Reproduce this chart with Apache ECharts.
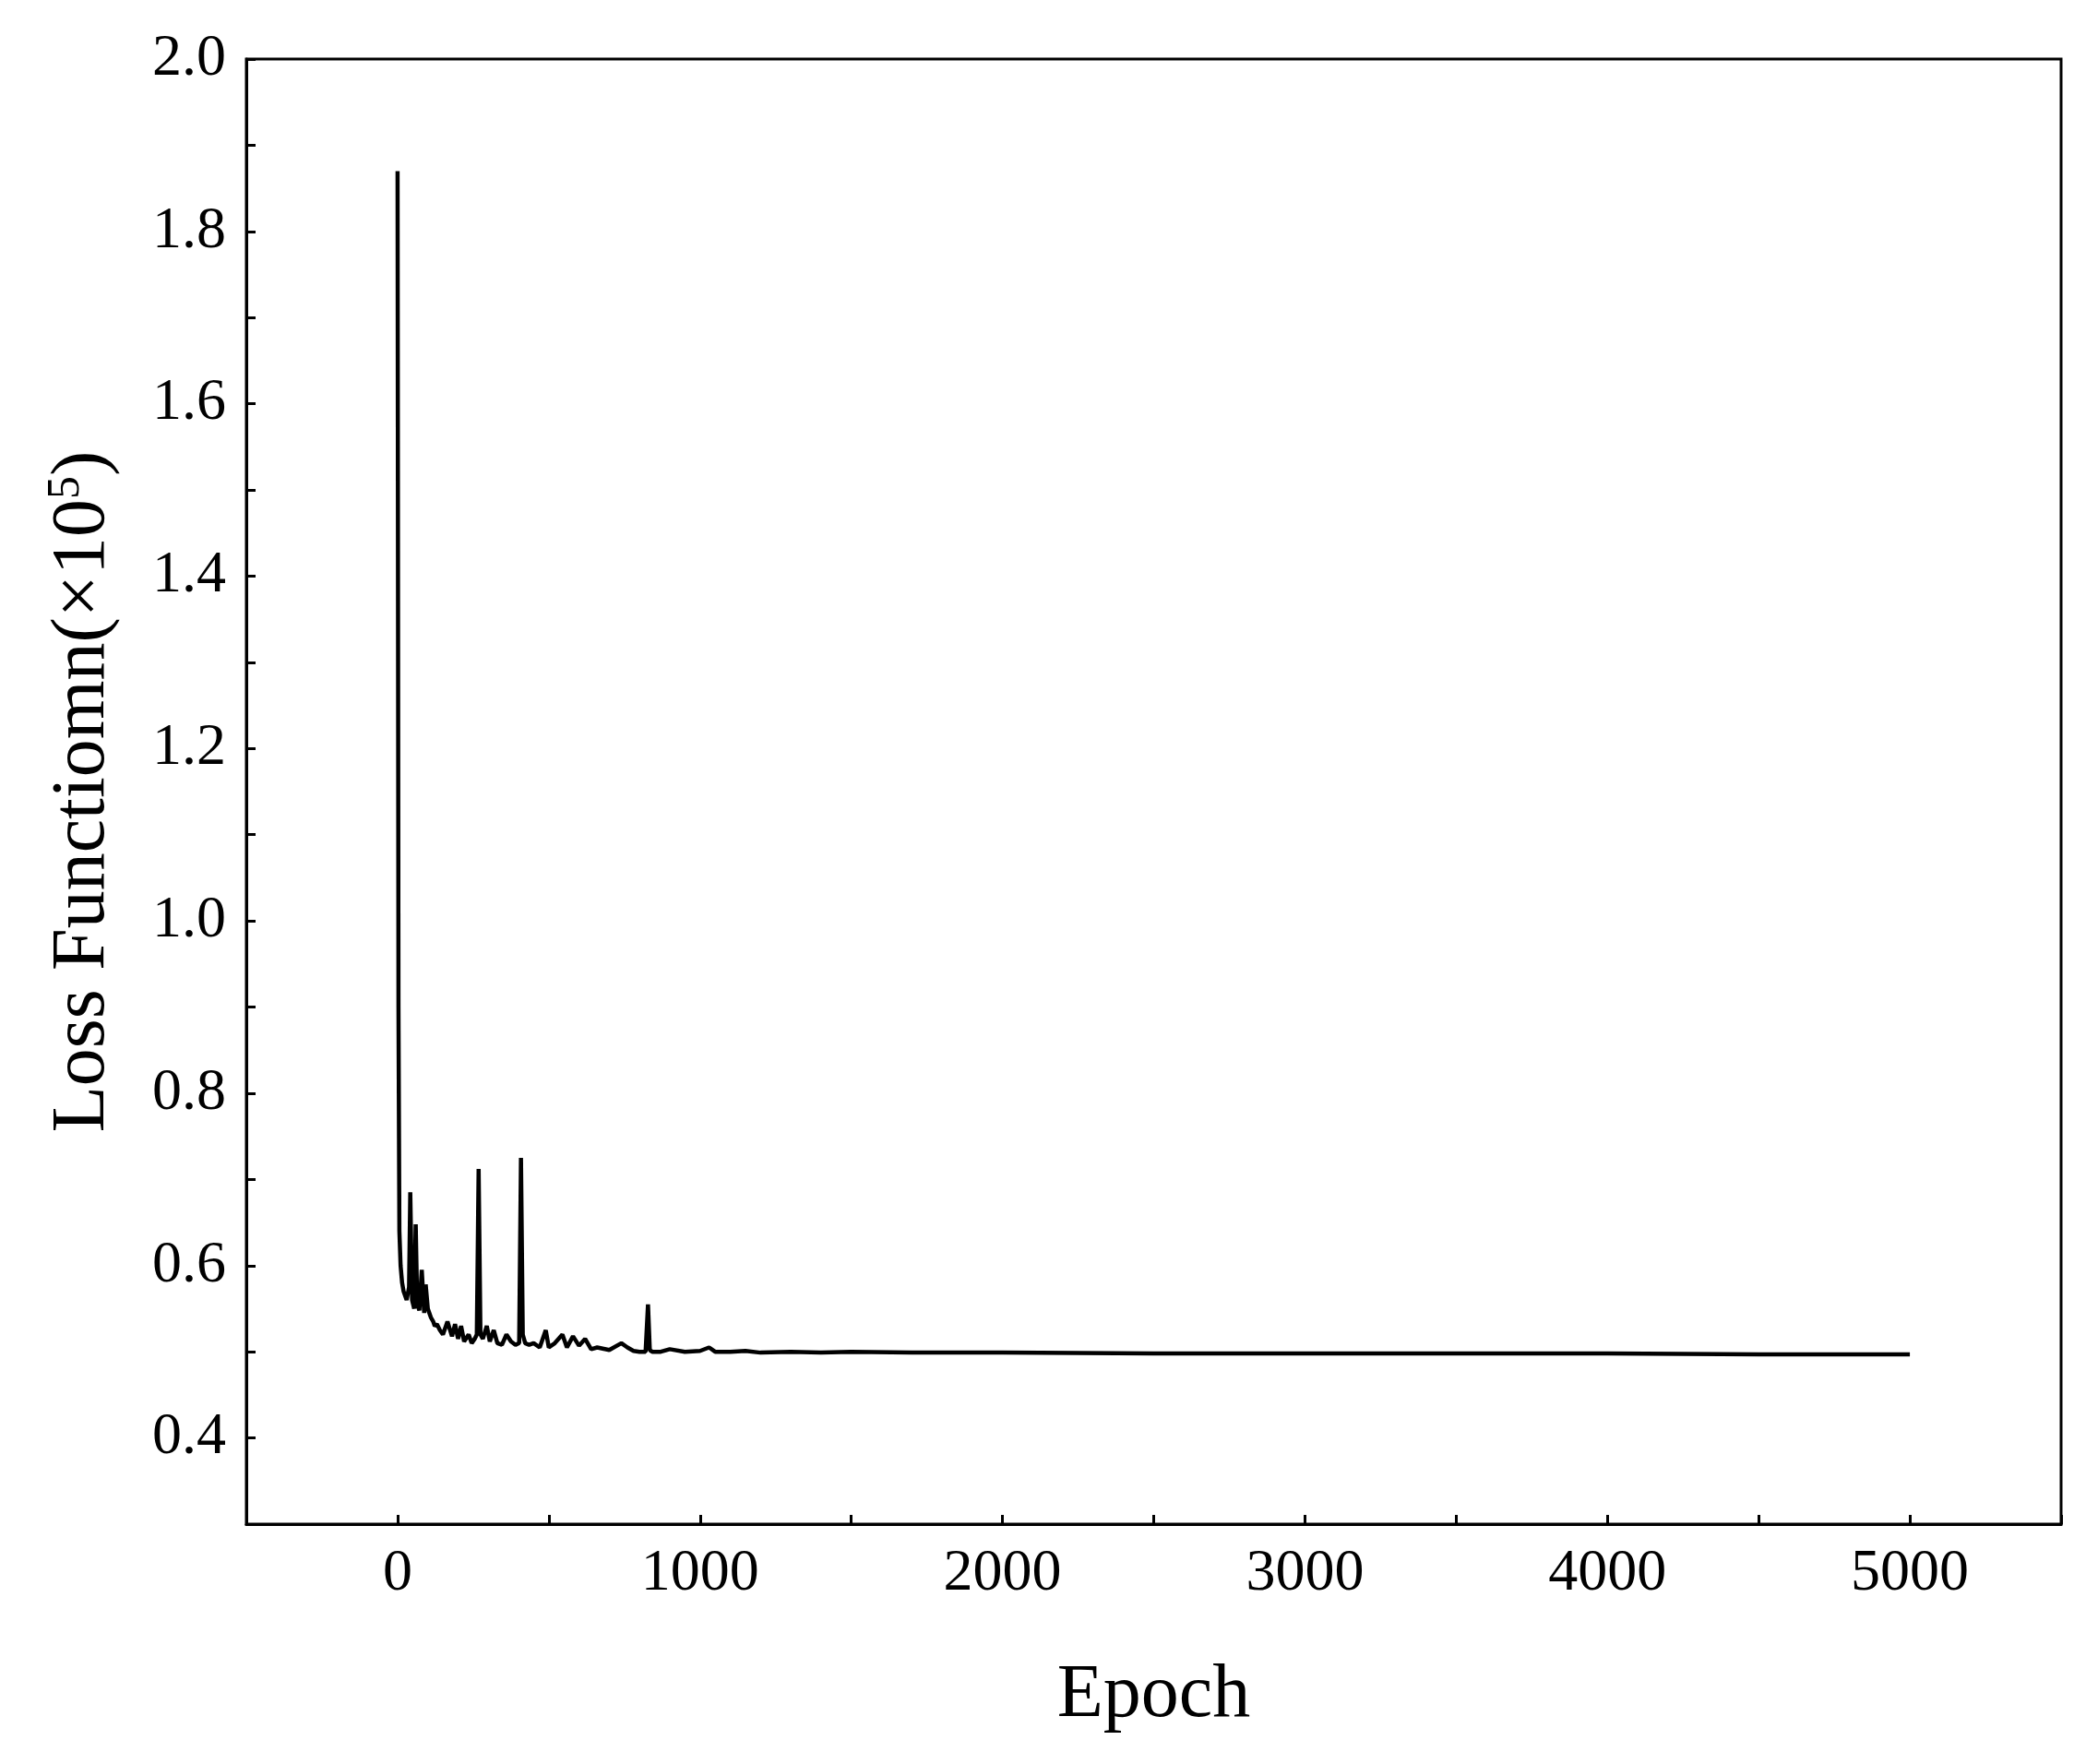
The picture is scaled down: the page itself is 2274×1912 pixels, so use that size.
<!DOCTYPE html>
<html><head><meta charset="utf-8">
<script src="https://cdn.jsdelivr.net/npm/echarts@6/dist/echarts.min.js"></script>
<style>html,body{margin:0;padding:0;background:#fff}#c{width:2274px;height:1912px}</style>
</head><body><div id="c"></div>
<script>
const epochs = [0,3,6,10,15,20,30,38,42,48,55,60,65,72,80,88,93,100,110,118,123,130,140,150,165,180,190,200,210,220,235,245,255,262,268,274,282,295,305,318,330,345,360,375,390,402,408,414,422,435,450,470,490,500,520,545,560,580,600,620,640,660,700,740,760,780,800,820,828,834,842,870,900,950,1000,1030,1050,1100,1150,1200,1300,1400,1500,1700,1900,2000,2500,3000,3500,4000,4500,5000];
const loss = [1.87,0.90,0.64,0.60,0.58,0.57,0.56,0.575,0.685,0.56,0.55,0.648,0.555,0.548,0.595,0.545,0.578,0.55,0.54,0.535,0.53,0.532,0.525,0.52,0.535,0.518,0.532,0.515,0.53,0.512,0.52,0.51,0.515,0.52,0.712,0.52,0.515,0.53,0.512,0.525,0.51,0.508,0.52,0.512,0.508,0.51,0.725,0.52,0.51,0.508,0.51,0.505,0.525,0.505,0.51,0.52,0.505,0.518,0.507,0.515,0.503,0.505,0.502,0.51,0.505,0.501,0.5,0.5,0.555,0.502,0.5,0.5,0.503,0.5,0.501,0.505,0.5,0.5,0.501,0.499,0.5,0.499,0.5,0.499,0.499,0.499,0.498,0.498,0.498,0.498,0.497,0.497];
const data = epochs.map((e,i)=>[e,loss[i]]);
const font = '"Liberation Serif", "Times New Roman", serif';
const chart = echarts.init(document.getElementById('c'));
chart.setOption({
  backgroundColor:'#fff',
  animation:false,
  grid:{left:267,right:40,top:64,bottom:260,show:true,borderColor:'#000',borderWidth:3,backgroundColor:'transparent'},
  xAxis:{type:'value',min:-500,max:5500,interval:500,
    name:'Epoch',nameLocation:'middle',nameGap:145,
    nameTextStyle:{fontFamily:font,fontSize:82,color:'#000'},
    axisLine:{onZero:false,lineStyle:{color:'#000',width:3}},
    axisTick:{inside:true,length:10,lineStyle:{color:'#000',width:3}},
    axisLabel:{fontFamily:font,fontSize:64,color:'#000',margin:22,
      formatter:v=>(v>=0&&v%1000===0)?String(v):''},
    splitLine:{show:false}},
  yAxis:{type:'value',min:0.3,max:2.0,interval:0.1,
    name:'{a|Loss Functiomn(×10}{s|5}{a|)}',nameLocation:'middle',nameGap:134,
    nameTextStyle:{rich:{a:{fontFamily:font,fontSize:82,color:'#000'},s:{fontFamily:font,fontSize:50,color:'#000',verticalAlign:'top',padding:[0,0,36,0]}}},
    axisLine:{onZero:false,lineStyle:{color:'#000',width:3}},
    axisTick:{inside:true,length:10,lineStyle:{color:'#000',width:3}},
    axisLabel:{fontFamily:font,fontSize:64,color:'#000',margin:22,
      formatter:v=>{const r=Math.round(v*10);return (r%2===0&&r>=4)?(r/10).toFixed(1):'';}},
    splitLine:{show:false}},
  series:[{type:'line',data:data,showSymbol:false,lineStyle:{color:'#000',width:4.5}}]
});
</script>
</body></html>
